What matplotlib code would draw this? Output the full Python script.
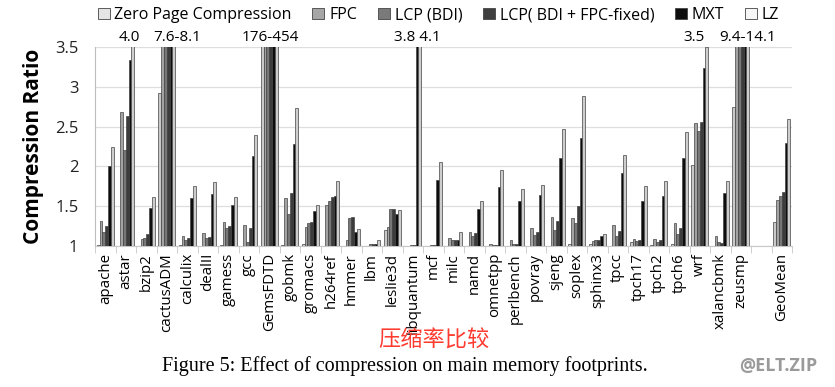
import numpy as np
import matplotlib
matplotlib.use("Agg")
import matplotlib.pyplot as plt
from matplotlib.patches import Patch

# 벤치마크 이름 (빈 칸 하나 두고 GeoMean)
benchmarks = ["apache", "astar", "bzip2", "cactusADM", "calculix", "dealII", "gamess", "gcc",
              "GemsFDTD", "gobmk", "gromacs", "h264ref", "hmmer", "lbm", "leslie3d", "libquantum",
              "mcf", "milc", "namd", "omnetpp", "perlbench", "povray", "sjeng", "soplex",
              "sphinx3", "tpcc", "tpch17", "tpch2", "tpch6", "wrf", "xalancbmk", "zeusmp",
              "", "GeoMean"]

series_names = ["Zero Page Compression", "FPC", "LCP (BDI)", "LCP( BDI + FPC-fixed)", "MXT", "LZ"]

# 압축률 값 (그림에서 읽은 값, 빈 칸은 1.0)
zpc = [1.01, 1.00, 1.00, 2.92, 1.01, 1.00, 1.01, 1.00, 176, 1.01, 1.02, 1.00, 1.00, 1.00, 1.20, 1.00,
       1.00, 1.00, 1.00, 1.00, 1.00, 1.00, 1.00, 1.03, 1.02, 1.00, 1.05, 1.01, 1.02, 2.02, 1.00, 2.75,
       1.00, 1.30]
fpc = [1.31, 2.68, 1.09, 7.6, 1.13, 1.16, 1.30, 1.26, 200, 1.60, 1.24, 1.51, 1.08, 1.00, 1.24, 1.00,
       1.00, 1.10, 1.18, 1.03, 1.08, 1.23, 1.37, 1.35, 1.06, 1.27, 1.09, 1.09, 1.29, 2.55, 1.13, 9.4,
       1.00, 1.58]
lcp_bdi = [1.18, 2.21, 1.10, 7.8, 1.08, 1.10, 1.22, 1.05, 300, 1.40, 1.29, 1.57, 1.35, 1.02, 1.46, 1.01,
           1.01, 1.07, 1.12, 1.01, 1.03, 1.14, 1.20, 1.29, 1.07, 1.13, 1.06, 1.05, 1.15, 2.45, 1.05, 11.0,
           1.00, 1.63]
lcp_fixed = [1.25, 2.63, 1.15, 8.0, 1.10, 1.11, 1.25, 1.23, 400, 1.66, 1.30, 1.62, 1.36, 1.02, 1.46, 1.01,
             1.01, 1.07, 1.16, 1.01, 1.03, 1.17, 1.31, 1.50, 1.075, 1.19, 1.07, 1.07, 1.22, 2.56, 1.04, 12.5,
             1.00, 1.68]
mxt = [2.00, 3.34, 1.48, 8.1, 1.60, 1.65, 1.51, 2.13, 454, 2.28, 1.44, 1.63, 1.18, 1.02, 1.40, 3.8,
       1.83, 1.07, 1.46, 1.74, 1.56, 1.64, 2.10, 2.36, 1.12, 1.92, 1.57, 1.63, 2.10, 3.23, 1.66, 14.1,
       1.00, 2.30]
lz = [2.25, 4.0, 1.62, 8.1, 1.76, 1.80, 1.61, 2.39, 454, 2.73, 1.52, 1.82, 1.21, 1.07, 1.45, 4.1,
      2.06, 1.17, 1.57, 1.95, 1.71, 1.77, 2.47, 2.88, 1.15, 2.14, 1.75, 1.82, 2.43, 3.5, 1.82, 14.1,
      1.00, 2.60]

# 축 범위를 넘는 막대 위의 값 표시
over_labels = ["4.0", "7.6-8.1", "176-454", "3.8 4.1", "3.5", "9.4-14.1"]
over_index = [1, 3, 8, 15, 29, 31]

bar_colors = ["#c9c9c9", "#a3a3a3", "#777777", "#3c3c3c", "#0d0d0d", "#cdcdcd"]
legend_colors = ["#e4e4e4", "#a6a6a6", "#7a7a7a", "#3f3f3f", "#0d0d0d", "#f6f6f6"]

fig = plt.figure(figsize=(8.35, 3.87), dpi=100)
ax = fig.add_axes([95 / 835, 1 - 246 / 387, 697 / 835, 199 / 387])

x = np.arange(len(benchmarks))
bw = 0.138
all_vals = [zpc, fpc, lcp_bdi, lcp_fixed, mxt, lz]
for i, (vals, c) in enumerate(zip(all_vals, bar_colors)):
    v = np.array(vals) - 1.0
    ax.bar(x + (i - 2.5) * bw, v, bw, bottom=1.0, color=c, edgecolor="#444444",
           linewidth=0.5, zorder=3)

ax.set_xlim(-0.5, len(benchmarks) - 0.5)
ax.set_ylim(1, 3.5)
ax.set_yticks([1, 1.5, 2, 2.5, 3, 3.5])
ax.set_yticklabels(["1", "1.5", "2", "2.5", "3", "3.5"], fontsize=12, family="Open Sans")
ax.yaxis.grid(True, color="#dedede", linewidth=0.9, zorder=0)
ax.tick_params(axis="y", length=0, pad=12, colors="#222222")

ax.set_xticks(x)
ax.set_xticklabels(benchmarks, rotation=90, fontsize=10.8, family="Open Sans")
ax.set_xticks(np.arange(len(benchmarks) + 1) - 0.5, minor=True)
ax.tick_params(axis="x", which="major", length=0, pad=5)
ax.tick_params(axis="x", which="minor", length=5, color="#c8c8c8")

for s in ["top", "right"]:
    ax.spines[s].set_visible(False)
ax.spines["left"].set_color("#bdbdbd")
ax.spines["bottom"].set_color("#c8c8c8")

ax.set_ylabel("Compression Ratio", fontsize=15, fontweight="bold", family="Open Sans", labelpad=8)

offsets = [0.15, 0.5, 0.05, 0.25, -0.3, 0.35]
for lab, idx, off in zip(over_labels, over_index, offsets):
    ax.text(idx + off, 3.53, lab, ha="center", va="bottom", fontsize=11, family="Open Sans",
            clip_on=False)

handles = [Patch(facecolor=c, edgecolor="#444444", linewidth=0.6) for c in legend_colors]
fig.legend(handles, series_names, loc="center", bbox_to_anchor=(0.525, 1 - 15 / 387), ncol=6,
           frameon=False, handlelength=0.75, handleheight=0.75, handletextpad=0.3,
           columnspacing=1.3, prop={"family": "Open Sans", "size": 11.5})

fig.text(434 / 835, 1 - 340 / 387, "压缩率比较", color="#ff3b30", fontsize=16,
         family=["Noto Sans CJK SC", "DejaVu Sans"], ha="center", va="center")
fig.text(405 / 835, 1 - 366 / 387, "Figure 5: Effect of compression on main memory footprints.",
         fontsize=14.5, family="Liberation Serif", ha="center", va="center")
fig.text(778 / 835, 1 - 366 / 387, "@ELT.ZIP", fontsize=13, fontweight="bold", color="#9a9a9a",
         family="Open Sans", ha="center", va="center")

fig.savefig("out.png", dpi=100)
